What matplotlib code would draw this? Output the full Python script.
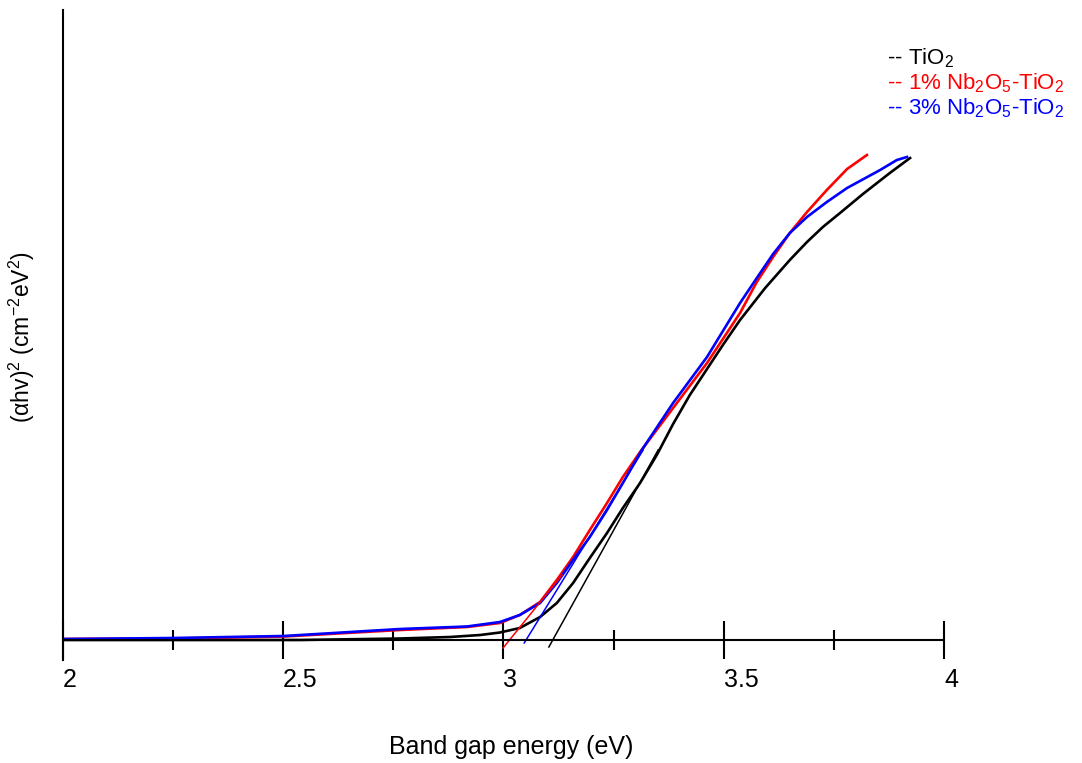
import matplotlib
matplotlib.use('Agg')
import matplotlib.pyplot as plt
from matplotlib.ticker import MultipleLocator

plt.rcParams['font.family'] = ['Liberation Sans', 'DejaVu Sans']
plt.rcParams['mathtext.fontset'] = 'custom'
plt.rcParams['mathtext.rm'] = 'Liberation Sans'
plt.rcParams['mathtext.it'] = 'Liberation Sans:italic'
plt.rcParams['mathtext.bf'] = 'Liberation Sans:bold'

# Tauc plot data (arbitrary y units)
tio2_x = [2.000, 2.311, 2.538, 2.765, 2.879, 2.947, 2.992, 3.037, 3.083, 3.121,
          3.158, 3.196, 3.235, 3.271, 3.310, 3.348, 3.385, 3.423, 3.462, 3.498,
          3.537, 3.594, 3.650, 3.689, 3.725, 3.764, 3.816, 3.877, 3.923]
tio2_y = [0.00, 0.00, 0.00, 0.015, 0.03, 0.05, 0.075, 0.12, 0.23, 0.37,
          0.57, 0.82, 1.07, 1.32, 1.57, 1.85, 2.16, 2.45, 2.71, 2.95,
          3.20, 3.52, 3.80, 3.98, 4.13, 4.27, 4.46, 4.67, 4.82]

nb1_x = [2.000, 2.252, 2.502, 2.765, 2.917, 2.992, 3.037, 3.083, 3.121, 3.158,
         3.196, 3.235, 3.271, 3.310, 3.385, 3.462, 3.537, 3.575, 3.612, 3.650,
         3.689, 3.734, 3.780, 3.825]
nb1_y = [0.01, 0.015, 0.035, 0.10, 0.13, 0.17, 0.25, 0.38, 0.60, 0.83,
         1.10, 1.37, 1.63, 1.88, 2.32, 2.77, 3.27, 3.58, 3.83, 4.07,
         4.28, 4.50, 4.71, 4.85]

nb3_x = [2.000, 2.252, 2.502, 2.765, 2.917, 2.992, 3.037, 3.083, 3.121, 3.158,
         3.196, 3.235, 3.271, 3.314, 3.385, 3.462, 3.537, 3.575, 3.612, 3.650,
         3.689, 3.734, 3.780, 3.855, 3.893, 3.916]
nb3_y = [0.01, 0.02, 0.04, 0.11, 0.135, 0.18, 0.25, 0.37, 0.57, 0.80,
         1.03, 1.30, 1.57, 1.90, 2.37, 2.83, 3.37, 3.62, 3.86, 4.07,
         4.23, 4.38, 4.52, 4.70, 4.80, 4.83]

# linear fits (band gap extrapolation)
fit_tio2_x = [3.103, 3.351]
fit_tio2_y = [-0.07, 1.90]
fit_nb1_x = [2.999, 3.133]
fit_nb1_y = [-0.08, 0.65]
fit_nb3_x = [3.047, 3.317]
fit_nb3_y = [-0.03, 1.90]

labels = ['-- TiO$_2$', '-- 1% Nb$_2$O$_5$-TiO$_2$', '-- 3% Nb$_2$O$_5$-TiO$_2$']
colors = ['black', 'red', 'blue']

fig = plt.figure(figsize=(10.82, 7.63), dpi=100)
ax = fig.add_axes([63 / 1082, 103 / 763, 881 / 1082, 650 / 763])

ax.plot(tio2_x, tio2_y, color='black', lw=1.9, solid_joinstyle='round')
ax.plot(nb1_x, nb1_y, color='red', lw=1.9, solid_joinstyle='round')
ax.plot(nb3_x, nb3_y, color='blue', lw=1.9, solid_joinstyle='round')
ax.plot(fit_tio2_x, fit_tio2_y, color='black', lw=1.1)
ax.plot(fit_nb1_x, fit_nb1_y, color='red', lw=1.1)
ax.plot(fit_nb3_x, fit_nb3_y, color='blue', lw=1.1)

ax.set_xlim(2, 4)
ax.set_ylim(-0.2, 6.3)
ax.spines['top'].set_visible(False)
ax.spines['right'].set_visible(False)
ax.spines['bottom'].set_position(('data', 0))
ax.spines['bottom'].set_linewidth(1.5)
ax.spines['left'].set_linewidth(1.5)
ax.set_yticks([])

ax.set_xticks([2, 2.5, 3, 3.5, 4])
ax.set_xticklabels(['2', '2.5', '3', '3.5', '4'])
ax.xaxis.set_minor_locator(MultipleLocator(0.25))
ax.tick_params(axis='x', which='major', direction='inout', length=28, width=1.5,
               labelsize=18, pad=6)
ax.tick_params(axis='x', which='minor', direction='inout', length=14, width=1.5)
for lab in ax.get_xticklabels():
    lab.set_ha('left')

ax.set_xlabel('Band gap energy (eV)', fontsize=18)
ax.xaxis.set_label_coords(0.5085, -0.115)
ax.set_ylabel('(αhv)$^2$ (cm$^{-2}$eV$^2$)', fontsize=16.5)
ax.yaxis.set_label_coords(-0.029, 0.497)

for i, (lab, c) in enumerate(zip(labels, colors)):
    fig.text(887 / 1082, 1 - (58 + 25 * i) / 763, lab, color=c, fontsize=16,
             va='center', ha='left')

fig.savefig('out.png', dpi=100)
